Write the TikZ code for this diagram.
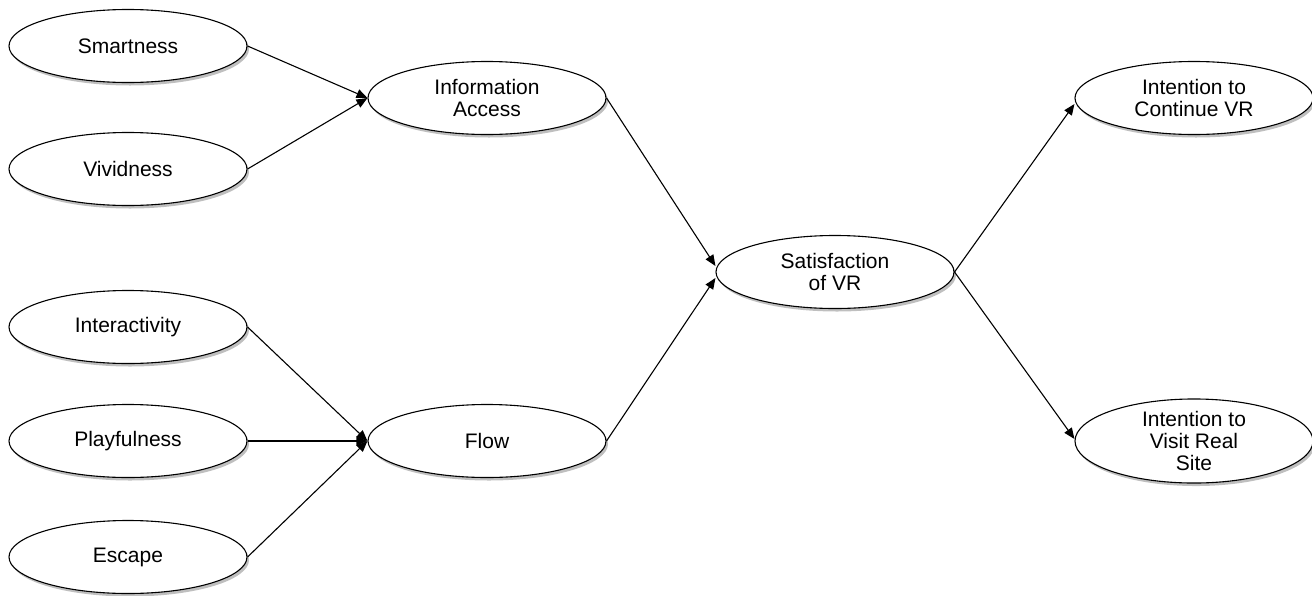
\documentclass[tikz,border=0pt]{standalone}
\usepackage{fontspec}
\setmainfont{Liberation Sans}
\usetikzlibrary{shapes.geometric,arrows.meta,shadows}

\tikzset{
  construct/.style={ellipse,draw,fill=white,line width=0.55pt,inner sep=0pt,
    minimum width=119pt,minimum height=36.5pt,align=center,
    font=\fontsize{10.5}{11}\selectfont,
    drop shadow={opacity=0.5,fill=black!50,shadow xshift=1pt,shadow yshift=-1.5pt}},
  path/.style={-{Triangle[length=5.5pt,width=4.5pt]},line width=0.55pt}
}

\begin{document}
\begin{tikzpicture}[x=0.5pt,y=-0.5pt]
  \useasboundingbox (0,0) rectangle (1312,595);
  % antecedents
  \node[construct] (smart) at (128,46)  {Smartness};
  \node[construct] (vivid) at (128,169) {Vividness};
  \node[construct] (inter) at (128,327) {Interactivity};
  \node[construct] (play)  at (128,441) {Playfulness};
  \node[construct] (escape) at (128,557) {Escape};
  % mediators
  \node[construct] (info) at (487,98)  {Information\\Access};
  \node[construct] (flow) at (487,441) {Flow};
  \node[construct] (sat)  at (835,272) {Satisfaction\\of VR};
  % outcomes
  \node[construct] (cont)  at (1194,98)  {Intention to\\Continue VR};
  \node[construct] (visit) at (1194,441) {Intention to\\Visit Real\\Site};

  \draw[path] (smart.east) -- (info.west);
  \draw[path] (vivid.east) -- (info.west);
  \draw[path] (inter.east) -- (flow.west);
  \draw[path] (play.east)  -- (flow.west);
  \draw[path] (escape.east) -- (flow.west);
  \draw[path] (info.east) -- ([yshift=3pt]sat.west);
  \draw[path] (flow.east) -- ([yshift=-3pt]sat.west);
  \draw[path] (sat.east) -- ([yshift=-3pt]cont.west);
  \draw[path] (sat.east) -- ([yshift=1pt]visit.west);
\end{tikzpicture}
\end{document}
